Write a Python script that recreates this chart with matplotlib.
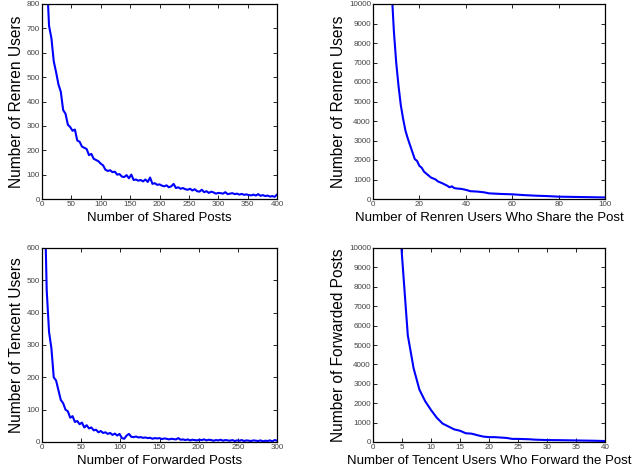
import numpy as np
import matplotlib
matplotlib.use("Agg")
import matplotlib.pyplot as plt

plt.rcParams['font.family'] = ['Liberation Sans', 'DejaVu Sans']

# Renren: users vs number of shared posts (x = 8, 12, ..., 400)
renren_posts = np.arange(8, 401, 4)
renren_users = [920, 710, 660, 565, 520, 470, 440, 365, 350, 305, 295, 280, 285, 240,
                235, 215, 210, 205, 180, 185, 165, 160, 155, 145, 138, 120, 115, 118,
                110, 112, 100, 102, 92, 90, 98, 85, 100, 78, 80, 75, 78, 72, 80, 70,
                88, 62, 65, 58, 60, 55, 52, 56, 48, 52, 62, 45, 48, 42, 45, 40, 38,
                42, 35, 40, 32, 30, 38, 28, 32, 25, 30, 27, 22, 25, 24, 22, 28, 20,
                22, 24, 20, 22, 18, 21, 17, 19, 16, 15, 18, 14, 20, 13, 16, 12, 14,
                10, 12, 9, 18]

# Renren: posts vs number of users sharing them
share_users = [7, 8, 9, 10, 11, 12, 13, 14, 15, 16, 17, 18, 19, 20, 21, 22, 23, 24, 25,
               26, 27, 28, 30, 32, 33, 34, 35, 36, 38, 40, 42, 45, 48, 50, 55, 60, 65,
               70, 75, 80, 85, 90, 95, 100]
share_count = [13000, 10800, 8600, 7000, 5800, 4800, 4100, 3500, 3100, 2750, 2400, 2050,
               1950, 1700, 1600, 1400, 1300, 1200, 1100, 1050, 1000, 900, 800, 680, 600,
               650, 560, 540, 520, 470, 400, 380, 340, 290, 260, 240, 200, 170, 150, 120,
               110, 100, 90, 80]

# Tencent: users vs number of forwarded posts (x = 3, 6, ..., 300)
tencent_posts = np.arange(3, 301, 3)
tencent_users = [800, 470, 340, 290, 200, 190, 160, 130, 120, 100, 95, 75, 80, 62, 65,
                 55, 60, 45, 52, 42, 45, 36, 38, 30, 34, 28, 30, 25, 28, 22, 26, 20, 25,
                 12, 10, 20, 25, 16, 15, 17, 14, 15, 13, 14, 12, 13, 10, 12, 11, 12, 9,
                 11, 10, 8, 10, 9, 8, 12, 7, 8, 6, 8, 5, 7, 6, 5, 7, 6, 8, 5, 7, 6, 4,
                 6, 5, 7, 4, 6, 5, 4, 6, 3, 5, 4, 6, 3, 5, 4, 3, 5, 4, 3, 5, 2, 4, 3,
                 5, 2, 6, 4]

# Tencent: posts vs number of users forwarding them
fwd_users = [4, 5, 6, 7, 8, 9, 10, 11, 12, 13, 14, 15, 16, 17, 18, 19, 20, 21, 22, 23,
             24, 25, 26, 27, 28, 29, 30, 32, 34, 36, 38, 40]
fwd_count = [14000, 9600, 5500, 3800, 2700, 2100, 1650, 1250, 950, 800, 650, 580, 450,
             430, 350, 280, 250, 250, 230, 210, 160, 160, 150, 140, 120, 110, 100, 95,
             85, 75, 65, 50]

panels = [
    (renren_posts, renren_users, (0, 400), np.arange(0, 401, 50), (0, 800), np.arange(0, 801, 100),
     "Number of Shared Posts", "Number of Renren Users"),
    (share_users, share_count, (0, 100), np.arange(0, 101, 20), (0, 10000), np.arange(0, 10001, 1000),
     "Number of Renren Users Who Share the Post", "Number of Renren Users"),
    (tencent_posts, tencent_users, (0, 300), np.arange(0, 301, 50), (0, 600), np.arange(0, 601, 100),
     "Number of Forwarded Posts", "Number of Tencent Users"),
    (fwd_users, fwd_count, (0, 40), np.arange(0, 41, 5), (0, 10000), np.arange(0, 10001, 1000),
     "Number of Tencent Users Who Forward the Post", "Number of Forwarded Posts"),
]

fig = plt.figure(figsize=(6.44, 4.72), dpi=100)
W, H = 644, 472
boxes = [(42, 4, 277, 199), (373, 4, 605, 199), (42, 248, 277, 442), (373, 248, 605, 442)]

for (x, y, xl, xt, yl, yt, xlab, ylab), (l, t, r, b) in zip(panels, boxes):
    ax = fig.add_axes([l / W, 1 - b / H, (r - l) / W, (b - t) / H])
    ax.plot(x, y, color="#0000ff", lw=1.5)
    ax.set_xlim(*xl)
    ax.set_ylim(*yl)
    ax.set_xticks(xt)
    ax.set_yticks(yt)
    ax.tick_params(direction="in", top=True, right=True, length=3, width=0.6,
                   labelsize=5.8, labelcolor="#444444", pad=1.5)
    for s in ax.spines.values():
        s.set_linewidth(0.9)
    ax.set_xlabel(xlab, fontsize=9.5, labelpad=2.5)
    ax.set_ylabel(ylab, fontsize=11.2, labelpad=2)

fig.savefig("out.png", dpi=100)
